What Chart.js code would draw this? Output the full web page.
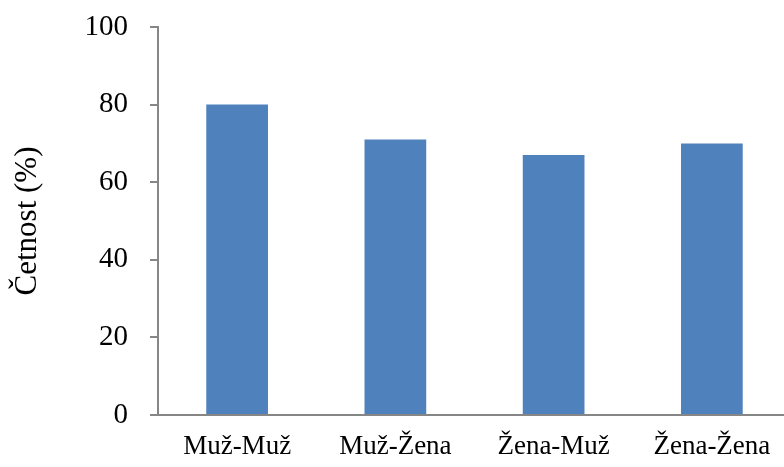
<!DOCTYPE html>
<html>
<head>
<meta charset="utf-8">
<script src="https://cdn.jsdelivr.net/npm/chart.js@4/dist/chart.umd.min.js"></script>
<style>
html,body{margin:0;padding:0;background:#fff;overflow:hidden;width:784px;height:467px;}
canvas{display:block;}
</style>
</head>
<body>
<canvas id="c" width="800" height="467" style="width:800px;height:467px"></canvas>
<script>
const categories = ["Muž-Muž", "Muž-Žena", "Žena-Muž", "Žena-Žena"];
const values = [80, 71, 67, 70];
const yTicks = [0, 20, 40, 60, 80, 100];
const yTitle = "Četnost (%)";

const axisColor = "#868686";
const fam = "'Liberation Serif', 'Times New Roman', serif";

new Chart(document.getElementById('c'), {
  type: 'bar',
  data: {
    labels: categories,
    datasets: [{
      data: values,
      backgroundColor: '#4F81BD',
      borderWidth: 0,
      barPercentage: 0.39,
      categoryPercentage: 1.0
    }]
  },
  options: {
    responsive: false,
    animation: false,
    layout: {padding: {top: 27, right: 9, left: 0, bottom: 0}},
    plugins: {legend: {display: false}, tooltip: {enabled: false}},
    scales: {
      x: {
        grid: {display: false},
        border: {display: true, color: axisColor, width: 2},
        ticks: {color: '#000', font: {family: fam, size: 27}, padding: 8, maxRotation: 0, autoSkip: false},
        afterFit: s => { s.height = 52; s.paddingLeft = 0; s.paddingRight = 0; }
      },
      y: {
        min: 0, max: 100,
        afterBuildTicks: s => { s.ticks = yTicks.map(v => ({value: v})); },
        grid: {drawOnChartArea: false, drawTicks: true, tickLength: 8, color: axisColor, lineWidth: 2},
        border: {display: true, color: axisColor, width: 2},
        ticks: {color: '#000', font: {family: fam, size: 29}, padding: 22},
        title: {display: true, text: yTitle, color: '#000', font: {family: fam, size: 31}, padding: {top: 9, bottom: 0}},
        afterFit: s => { s.width = 158; s.paddingTop = 0; s.paddingBottom = 0; }
      }
    }
  }
});
</script>
</body>
</html>
